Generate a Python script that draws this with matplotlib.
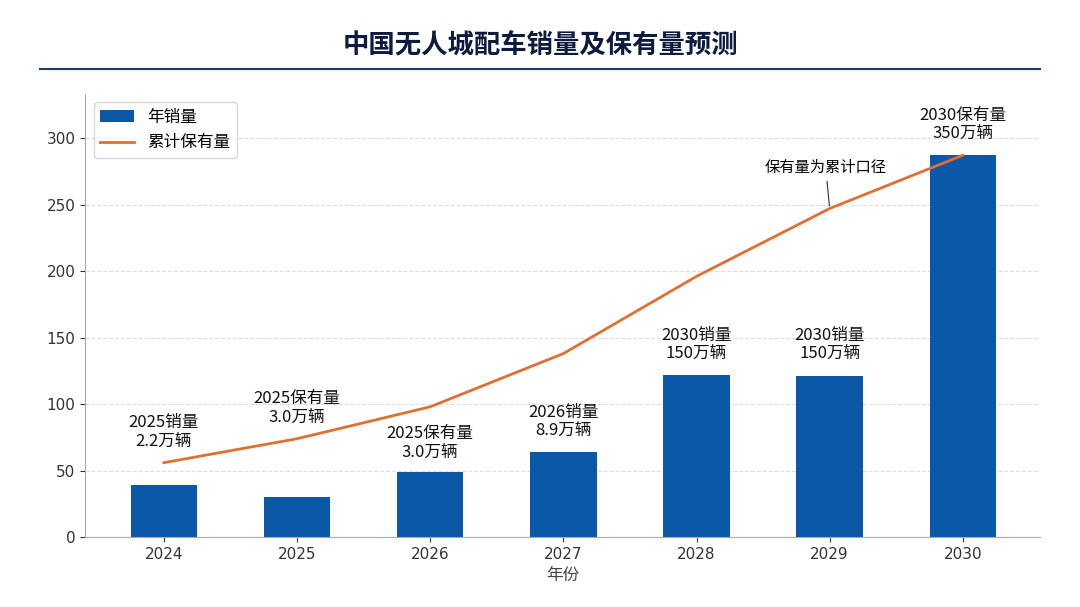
import matplotlib.pyplot as plt
import numpy as np

plt.rcParams['font.family'] = ['Noto Sans CJK SC', 'DejaVu Sans']

years = ['2024', '2025', '2026', '2027', '2028', '2029', '2030']
sales = [39, 30, 49, 64, 122, 121, 287]
stock = [56, 74, 98, 138, 196, 247, 287]
bar_labels = ['2025销量\n2.2万辆', '2025保有量\n3.0万辆', '2025保有量\n3.0万辆', '2026销量\n8.9万辆',
              '2030销量\n150万辆', '2030销量\n150万辆', '2030保有量\n350万辆']
label_y = [79, 97, 71, 87, 145, 145, 310]

fig = plt.figure(figsize=(10.8, 6.07), dpi=100)
fig.text(0.5, 0.925, '中国无人城配车销量及保有量预测', ha='center', va='center',
         fontsize=19, fontweight='bold', color='#0d1b3e')
fig.add_artist(plt.Line2D([0.037, 0.963], [0.886, 0.886], color='#1f3a6e', lw=1.5))

ax = fig.add_axes([0.079, 0.115, 0.884, 0.73])
x = np.arange(len(years))
ax.bar(x, sales, width=0.5, color='#0b57a8', label='年销量', zorder=2)
ax.plot(x, stock, color='#e07030', lw=2, label='累计保有量', zorder=3)
for xi, t, yv in zip(x, bar_labels, label_y):
    ax.text(xi, yv, t, ha='center', va='center', fontsize=12, color='#111111', linespacing=1.1)
ax.annotate('保有量为累计口径', xy=(5, 247), xytext=(4.97, 278), ha='center', va='center',
            fontsize=11, arrowprops=dict(arrowstyle='-', color='#333333', lw=0.8))

ax.set_xlim(-0.59, 6.58)
ax.set_ylim(0, 333)
ax.set_xticks(x)
ax.set_xticklabels(years)
ax.set_yticks(range(0, 301, 50))
ax.tick_params(labelsize=12, colors='#333333')
for lab in ax.get_xticklabels() + ax.get_yticklabels():
    lab.set_fontfamily('DejaVu Sans')
    lab.set_fontsize(11)
ax.set_xlabel('年份', fontsize=12, color='#444444')
ax.yaxis.grid(True, linestyle='--', color='#dddddd', zorder=0)
ax.set_axisbelow(True)
for s in ['top', 'right']:
    ax.spines[s].set_visible(False)
for s in ['left', 'bottom']:
    ax.spines[s].set_color('#aaaaaa')
h, l = ax.get_legend_handles_labels()
ax.legend(h[::-1], l[::-1], loc='upper left', fontsize=12, frameon=True, edgecolor='#cccccc')

fig.savefig('out.png', dpi=100)
